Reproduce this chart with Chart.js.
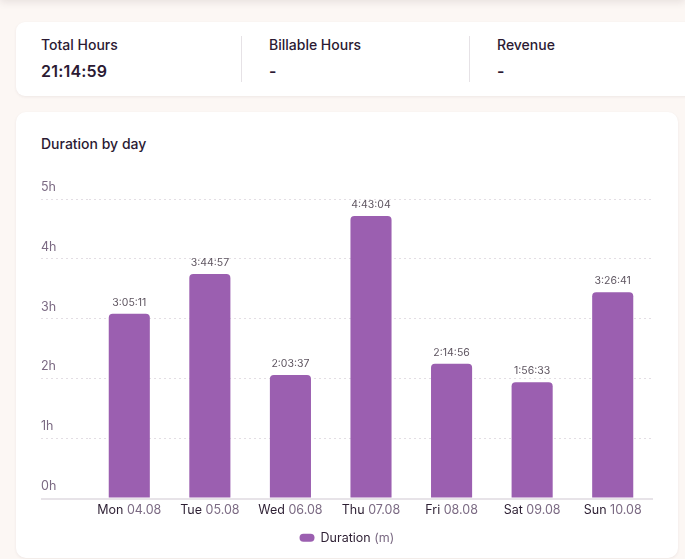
<!DOCTYPE html>
<html>
<head>
<meta charset="utf-8">
<script src="https://cdn.jsdelivr.net/npm/chart.js@4.4.1/dist/chart.umd.min.js"></script>
<style>
  body { margin: 0; background: #fcf7f4; font-family: Inter, "Noto Sans", sans-serif; width: 685px; height: 559px; overflow: hidden; position: relative; }
  .topbar { position: absolute; left: 0; top: -40px; width: 685px; height: 40px; background: #fff; box-shadow: 0 2px 8px rgba(40, 20, 30, 0.10); }
  .stats { position: absolute; left: 16px; top: 22px; width: 720px; height: 74px; background: #fff; border-radius: 9px; box-shadow: 0 1px 3px rgba(60, 30, 40, 0.07); }
  .stat { position: absolute; top: 14px; }
  .stat .lbl { font-size: 14px; font-weight: 500; color: #2b1a33; line-height: 18px; }
  .stat .val { font-size: 16px; font-weight: 600; color: #2b1a33; line-height: 20px; margin-top: 7px; letter-spacing: 0.2px; }
  .divider { position: absolute; top: 14px; width: 1px; height: 46px; background: #e6e2e6; }
  .card { position: absolute; left: 16px; top: 112px; width: 662px; height: 446px; background: #fff; border-radius: 10px; box-shadow: 0 1px 3px rgba(60, 30, 40, 0.07); }
  .card .title { position: absolute; left: 25px; top: 23px; font-size: 14px; font-weight: 500; color: #2b1a33; }
  .wrap { position: absolute; left: 25px; top: 67px; width: 612px; height: 375px; }
</style>
</head>
<body>
<div class="topbar"></div>
<div class="stats">
  <div class="stat" style="left:25px"><div class="lbl">Total Hours</div><div class="val" id="total"></div></div>
  <div class="divider" style="left:225px"></div>
  <div class="stat" style="left:253px"><div class="lbl">Billable Hours</div><div class="val">-</div></div>
  <div class="divider" style="left:453px"></div>
  <div class="stat" style="left:481px"><div class="lbl">Revenue</div><div class="val">-</div></div>
</div>
<div class="card">
  <div class="title">Duration by day</div>
  <div class="wrap"><canvas id="myChart"></canvas></div>
</div>
<script>
const days = ['Mon', 'Tue', 'Wed', 'Thu', 'Fri', 'Sat', 'Sun'];
const dates = ['04.08', '05.08', '06.08', '07.08', '08.08', '09.08', '10.08'];
// minutes per day
const durations = [185.1833, 224.95, 123.6167, 283.0667, 134.9333, 116.55, 206.6833];
const yTicks = [0, 60, 120, 180, 240, 300];

function fmt(min) {
    let s = Math.round(min * 60);
    let h = Math.floor(s / 3600);
    let m = Math.floor((s % 3600) / 60);
    let sec = s % 60;
    return h + ':' + String(m).padStart(2, '0') + ':' + String(sec).padStart(2, '0');
}

document.getElementById('total').textContent = fmt(durations.reduce((a, b) => a + b, 0));

const dark = '#2d1f33';
const soft = '#7b6a83';
const fontFamily = 'Inter, "Noto Sans", sans-serif';

const extras = {
    id: 'extras',
    afterDatasetsDraw(chart) {
        let ctx = chart.ctx;
        ctx.save();
        ctx.font = '10.5px ' + fontFamily;
        ctx.fillStyle = '#5e5560';
        ctx.textAlign = 'center';
        ctx.textBaseline = 'middle';
        chart.getDatasetMeta(0).data.forEach((bar, i) => {
            ctx.fillText(fmt(durations[i]), bar.x, bar.y - 11);
        });
        ctx.restore();
    },
    afterDraw(chart) {
        let ctx = chart.ctx;
        let x = chart.scales.x;
        ctx.save();
        ctx.font = '12.5px ' + fontFamily;
        ctx.textBaseline = 'middle';
        ctx.textAlign = 'left';
        let y = x.top + 12;
        days.forEach((d, i) => {
            let a = d + ' ';
            let w = ctx.measureText(a).width + ctx.measureText(dates[i]).width;
            let cx = x.getPixelForTick(i) - w / 2;
            ctx.fillStyle = dark;
            ctx.fillText(a, cx, y);
            ctx.fillStyle = soft;
            ctx.fillText(dates[i], cx + ctx.measureText(a).width, y);
        });
        // legend text in two tones
        let box = chart.legend.legendHitBoxes[0];
        if (box) {
            let tx = box.left + 15 + 6;
            let ty = box.top + box.height / 2;
            ctx.fillStyle = dark;
            ctx.fillText('Duration ', tx, ty);
            ctx.fillStyle = soft;
            ctx.fillText('(m)', tx + ctx.measureText('Duration ').width, ty);
        }
        ctx.restore();
    }
};

const ctx = document.getElementById('myChart').getContext('2d');
const myChart = new Chart(ctx, {
    type: 'bar',
    data: {
        labels: days.map((d, i) => d + ' ' + dates[i]),
        datasets: [{
            label: 'Duration (m)',
            data: durations,
            backgroundColor: '#9b5fb0',
            borderRadius: 4,
            borderSkipped: 'start',
            categoryPercentage: 1,
            barPercentage: 0.51
        }]
    },
    options: {
        responsive: true,
        maintainAspectRatio: false,
        animation: false,
        layout: { padding: { top: 20, right: 0, left: 0, bottom: 0 } },
        scales: {
            x: {
                grid: { display: false },
                border: { display: false },
                ticks: { color: 'rgba(0,0,0,0)', font: { size: 12.5, family: fontFamily }, padding: 2 }
            },
            y: {
                min: 0,
                max: 300,
                afterBuildTicks: s => { s.ticks = yTicks.map(v => ({ value: v })); },
                afterFit: s => { s.width = 48; },
                border: {
                    display: false,
                    dash: c => (c.tick && c.tick.value === 0 ? [] : [2, 3])
                },
                grid: {
                    tickLength: 48,
                    color: c => (c.tick && c.tick.value === 0 ? '#e7e3e8' : '#e3dee4'),
                    lineWidth: c => (c.tick && c.tick.value === 0 ? 2 : 1),
                    tickColor: c => (c.tick && c.tick.value === 0 ? '#e7e3e8' : '#e3dee4'),
                    tickWidth: c => (c.tick && c.tick.value === 0 ? 2 : 1),
                    tickBorderDash: c => (c.tick && c.tick.value === 0 ? [] : [2, 3])
                },
                ticks: {
                    crossAlign: 'far',
                    labelOffset: -12,
                    color: soft,
                    font: { size: 12.5, family: fontFamily },
                    callback: v => (v / 60) + 'h'
                }
            }
        },
        plugins: {
            tooltip: { enabled: false },
            legend: {
                position: 'bottom',
                labels: {
                    boxWidth: 15,
                    boxHeight: 8,
                    useBorderRadius: true,
                    borderRadius: 4,
                    color: 'rgba(0,0,0,0)',
                    font: { size: 12.5, family: fontFamily },
                    padding: 6
                }
            }
        }
    },
    plugins: [extras]
});
</script>
</body>
</html>
